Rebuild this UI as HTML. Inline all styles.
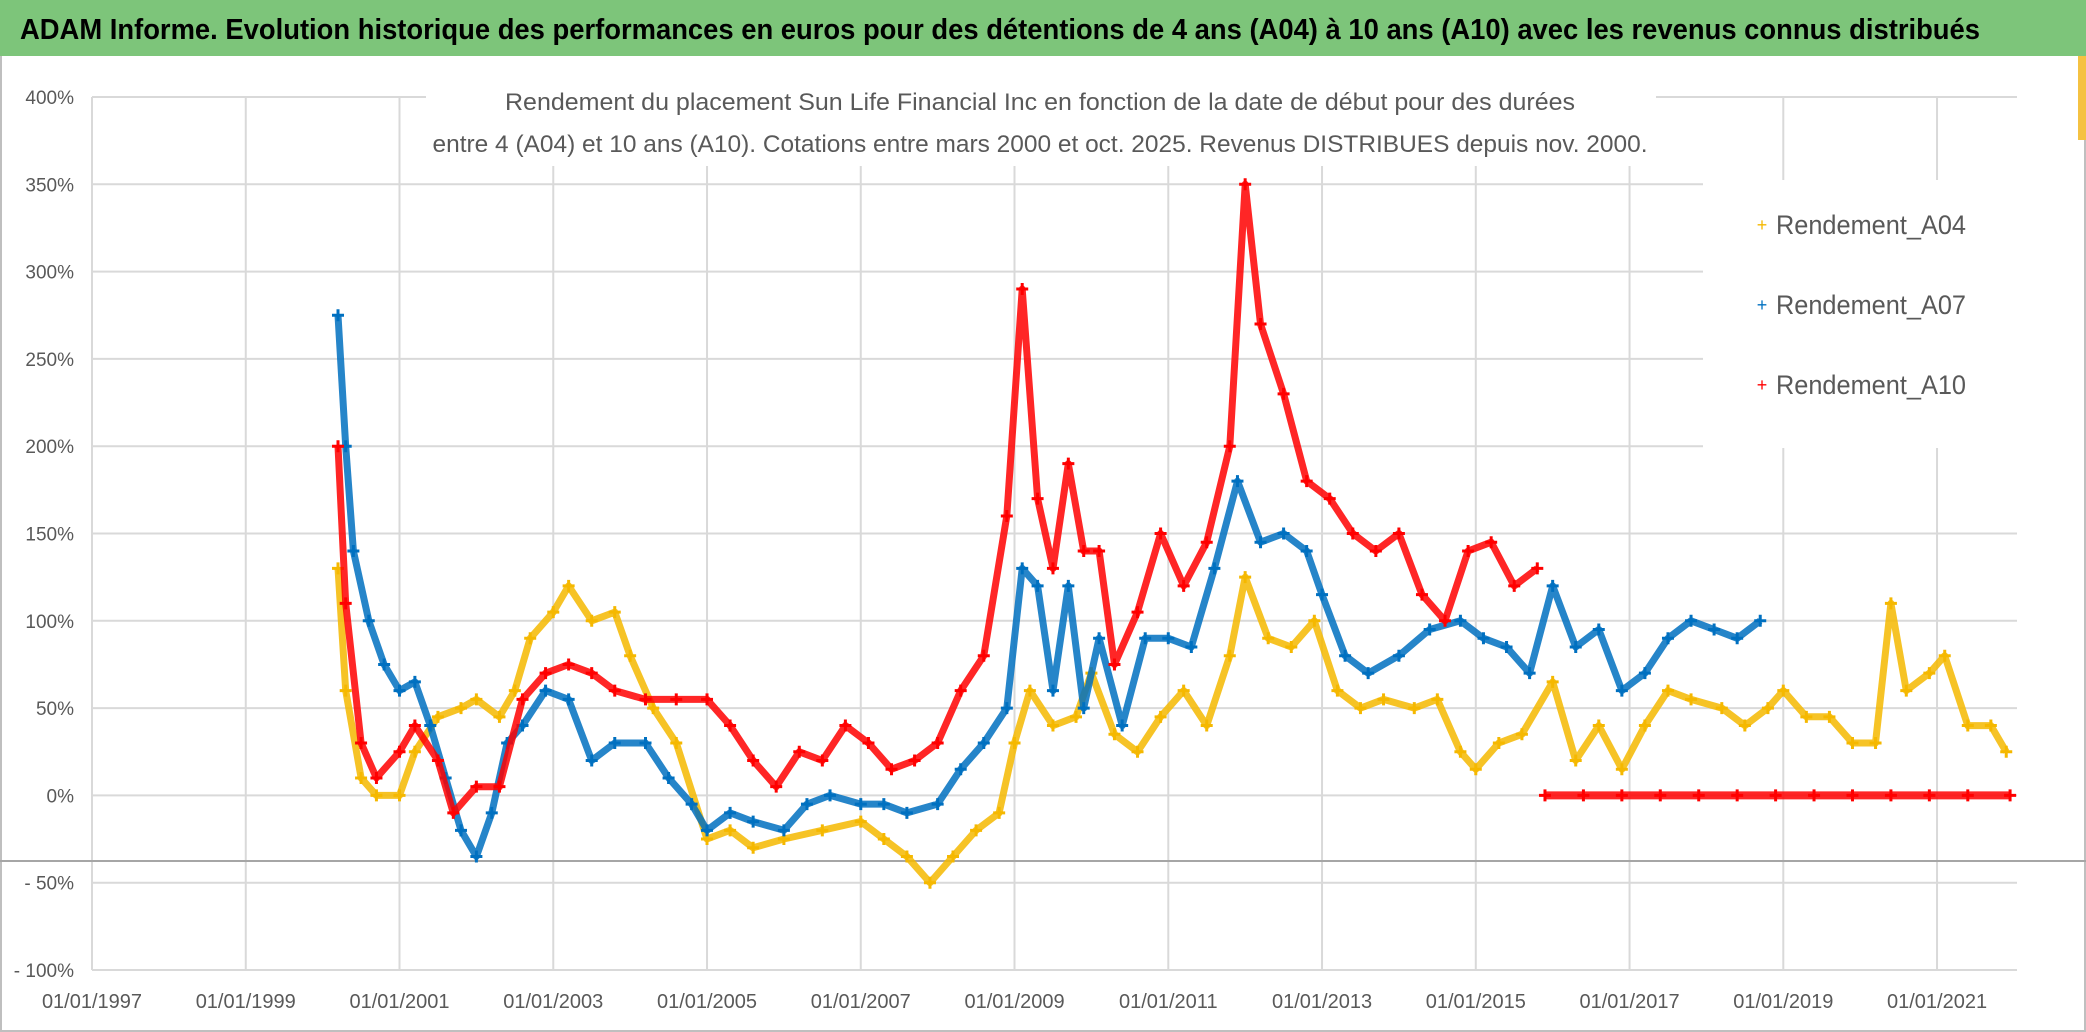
<!DOCTYPE html>
<html><head><meta charset="utf-8"><style>
body{margin:0;background:#fff;}
svg{display:block;font-family:"Liberation Sans",sans-serif;}
</style></head><body>
<svg id="chart" width="2086" height="1032" viewBox="0 0 2086 1032">
<rect x="0" y="0" width="2086" height="1032" fill="#fff"/>
<rect x="1" y="1" width="2084" height="1030" fill="none" stroke="#bfbfbf" stroke-width="2"/>
<rect x="0" y="0" width="2086" height="56" fill="#7dc57a"/>
<text x="1000" y="39" text-anchor="middle" font-size="29" font-weight="bold" fill="#000" textLength="1960" lengthAdjust="spacingAndGlyphs">ADAM Informe. Evolution historique des performances en euros pour des détentions de 4 ans (A04) à 10 ans (A10) avec les revenus connus distribués</text>
<rect x="2078" y="56" width="8" height="84" fill="#f5c242"/>
<g id="grid"></g>
<g id="axes"></g>
<line x1="0" y1="861" x2="2086" y2="861" stroke="#a6a6a6" stroke-width="2"/>
<g id="marks"></g>
<rect x="426" y="80" width="1230" height="86" fill="#fff"/>
<text x="1040" y="110" text-anchor="middle" font-size="24" fill="#595959" textLength="1070" lengthAdjust="spacingAndGlyphs">Rendement du placement Sun Life Financial Inc en fonction de la date de début pour des durées</text>
<text x="1040" y="152" text-anchor="middle" font-size="24" fill="#595959" textLength="1215" lengthAdjust="spacingAndGlyphs">entre 4 (A04) et 10 ans (A10). Cotations entre mars 2000 et oct. 2025. Revenus DISTRIBUES depuis nov. 2000.</text>
<g>
<rect x="1703" y="180" width="314" height="268" fill="#fff"/>
<g><text x="1762" y="231" font-size="18" fill="#f5b800" text-anchor="middle">+</text><text x="1776" y="234" font-size="27" fill="#595959" textLength="190" lengthAdjust="spacingAndGlyphs">Rendement_A04</text></g>
<g><text x="1762" y="311" font-size="18" fill="#0070c0" text-anchor="middle">+</text><text x="1776" y="314" font-size="27" fill="#595959" textLength="190" lengthAdjust="spacingAndGlyphs">Rendement_A07</text></g>
<g><text x="1762" y="391" font-size="18" fill="#ff0000" text-anchor="middle">+</text><text x="1776" y="394" font-size="27" fill="#595959" textLength="190" lengthAdjust="spacingAndGlyphs">Rendement_A10</text></g>
</g>
</svg>
<script>
const yTicks=[400,350,300,250,200,150,100,50,0,-50,-100];
const yTickLabels=["400%","350%","300%","250%","200%","150%","100%","50%","0%","- 50%","- 100%"];
const xTicks=[1997,1999,2001,2003,2005,2007,2009,2011,2013,2015,2017,2019,2021];
const xTickLabels=["01/01/1997","01/01/1999","01/01/2001","01/01/2003","01/01/2005","01/01/2007","01/01/2009","01/01/2011","01/01/2013","01/01/2015","01/01/2017","01/01/2019","01/01/2021"];
const a04Dates=[2000.2,2000.3,2000.5,2000.7,2001,2001.2,2001.5,2001.8,2002,2002.3,2002.5,2002.7,2003,2003.2,2003.5,2003.8,2004,2004.3,2004.6,2005,2005.3,2005.6,2006,2006.5,2007,2007.3,2007.6,2007.9,2008.2,2008.5,2008.8,2009,2009.2,2009.5,2009.8,2010,2010.3,2010.6,2010.9,2011.2,2011.5,2011.8,2012,2012.3,2012.6,2012.9,2013.2,2013.5,2013.8,2014.2,2014.5,2014.8,2015,2015.3,2015.6,2016,2016.3,2016.6,2016.9,2017.2,2017.5,2017.8,2018.2,2018.5,2018.8,2019,2019.3,2019.6,2019.9,2020.2,2020.4,2020.6,2020.9,2021.1,2021.4,2021.7,2021.9];
const a04Values=[130,60,10,0,0,25,45,50,55,45,60,90,105,120,100,105,80,50,30,-25,-20,-30,-25,-20,-15,-25,-35,-50,-35,-20,-10,30,60,40,45,70,35,25,45,60,40,80,125,90,85,100,60,50,55,50,55,25,15,30,35,65,20,40,15,40,60,55,50,40,50,60,45,45,30,30,110,60,70,80,40,40,25];
const a07Dates=[2000.2,2000.3,2000.4,2000.6,2000.8,2001,2001.2,2001.4,2001.6,2001.8,2002,2002.2,2002.4,2002.6,2002.9,2003.2,2003.5,2003.8,2004.2,2004.5,2004.8,2005,2005.3,2005.6,2006,2006.3,2006.6,2007,2007.3,2007.6,2008,2008.3,2008.6,2008.9,2009.1,2009.3,2009.5,2009.7,2009.9,2010.1,2010.4,2010.7,2011,2011.3,2011.6,2011.9,2012.2,2012.5,2012.8,2013,2013.3,2013.6,2014,2014.4,2014.8,2015.1,2015.4,2015.7,2016,2016.3,2016.6,2016.9,2017.2,2017.5,2017.8,2018.1,2018.4,2018.7];
const a07Values=[275,200,140,100,75,60,65,40,10,-20,-35,-10,30,40,60,55,20,30,30,10,-5,-20,-10,-15,-20,-5,0,-5,-5,-10,-5,15,30,50,130,120,60,120,50,90,40,90,90,85,130,180,145,150,140,115,80,70,80,95,100,90,85,70,120,85,95,60,70,90,100,95,90,100];
const a10Dates=[2000.2,2000.3,2000.5,2000.7,2001,2001.2,2001.5,2001.7,2002,2002.3,2002.6,2002.9,2003.2,2003.5,2003.8,2004.2,2004.6,2005,2005.3,2005.6,2005.9,2006.2,2006.5,2006.8,2007.1,2007.4,2007.7,2008,2008.3,2008.6,2008.9,2009.1,2009.3,2009.5,2009.7,2009.9,2010.1,2010.3,2010.6,2010.9,2011.2,2011.5,2011.8,2012,2012.2,2012.5,2012.8,2013.1,2013.4,2013.7,2014,2014.3,2014.6,2014.9,2015.2,2015.5,2015.8];
const a10Values=[200,110,30,10,25,40,20,-10,5,5,55,70,75,70,60,55,55,55,40,20,5,25,20,40,30,15,20,30,60,80,160,290,170,130,190,140,140,75,105,150,120,145,200,350,270,230,180,170,150,140,150,115,100,140,145,120,130];
const a10ZeroDates=[2015.9,2016.4,2016.9,2017.4,2017.9,2018.4,2018.9,2019.4,2019.9,2020.4,2020.9,2021.4,2021.95];
const a10ZeroValues=[0,0,0,0,0,0,0,0,0,0,0,0,0];

const X0=92,X1=2017,Y400=97,Y_100=970;
function xs(year){return X0+(year-1997)*(X1-X0)/(2022.04-1997);}
function ys(v){return Y_100+(v+100)*(Y400-Y_100)/500;}
const NS="http://www.w3.org/2000/svg";
function mk(tag,attrs,parent){const e=document.createElementNS(NS,tag);for(const k in attrs)e.setAttribute(k,attrs[k]);parent.appendChild(e);return e;}
const grid=document.getElementById('grid'),axes=document.getElementById('axes'),marks=document.getElementById('marks');
yTicks.forEach((v,i)=>{
  const l=mk('line',{x1:X0,x2:X1,y1:ys(v),y2:ys(v),stroke:'#d9d9d9','stroke-width':2},grid);
  
  
  const t=mk('text',{x:74,y:ys(v)+7,'text-anchor':'end','font-size':19,fill:'#595959'},axes);
  t.textContent=yTickLabels[i];
  
  
});
xTicks.forEach((yr,i)=>{
  const l=mk('line',{x1:xs(yr),x2:xs(yr),y1:Y400,y2:Y_100,stroke:'#d9d9d9','stroke-width':2},grid);
  
  
  const t=mk('text',{x:xs(yr),y:1008,'text-anchor':'middle','font-size':20,fill:'#595959'},axes);
  t.textContent=xTickLabels[i];
  
  
});
function series(dates,vals,color,name,w){
  const g=mk('g',{},marks);
  
  
  const pts=dates.map((d,i)=>xs(d).toFixed(1)+','+ys(vals[i]).toFixed(1)).join(' ');
  const pl=mk('polyline',{points:pts,fill:'none',stroke:color,'stroke-width':w,'stroke-linejoin':'round','stroke-opacity':0.85},g);
  
  
  dates.forEach((d,i)=>{
    const x=xs(d),y=ys(vals[i]);
    const p=mk('path',{d:`M${x-6},${y}H${x+6}M${x},${y-6}V${y+6}`,stroke:color,'stroke-width':3},g);
    
    
  });
}
series(a04Dates,a04Values,'#f5b800','series-a04',7);
series(a07Dates,a07Values,'#0070c0','series-a07',7);
series(a10Dates,a10Values,'#ff0000','series-a10',7);
series(a10ZeroDates,a10ZeroValues,'#ff0000','series-a10-zero',8);
</script>
</body></html>
